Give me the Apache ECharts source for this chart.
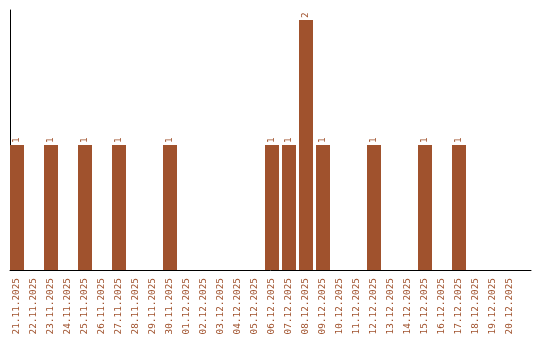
<!DOCTYPE html>
<html><head><meta charset="utf-8">
<script src="https://cdn.jsdelivr.net/npm/echarts@6/dist/echarts.min.js"></script>
<style>html,body{margin:0;padding:0;background:#fff}#c{width:540px;height:340px}</style>
</head><body><div id="c"></div>
<script>
var categories = ["21.11.2025","22.11.2025","23.11.2025","24.11.2025","25.11.2025","26.11.2025","27.11.2025","28.11.2025","29.11.2025","30.11.2025","01.12.2025","02.12.2025","03.12.2025","04.12.2025","05.12.2025","06.12.2025","07.12.2025","08.12.2025","09.12.2025","10.12.2025","11.12.2025","12.12.2025","13.12.2025","14.12.2025","15.12.2025","16.12.2025","17.12.2025","18.12.2025","19.12.2025","20.12.2025"];
var values = [1,0,1,0,1,0,1,0,0,1,0,0,0,0,0,1,1,2,1,0,0,1,0,0,1,0,1,0,0,0];
var labelIdx = categories.map(function(c,i){return i;});
var color = '#a0522d';
var chart = echarts.init(document.getElementById('c'));
chart.setOption({
  animation:false,
  grid:{left:10,right:9,top:10,bottom:70,containLabel:false},
  xAxis:{type:'value',min:-7/17,max:-7/17+521/17,
    axisLine:{show:true,onZero:false,lineStyle:{color:'#000',width:1}},
    axisTick:{show:false},splitLine:{show:false},
    axisLabel:{customValues:labelIdx,rotate:90,margin:8,color:color,
      fontFamily:'DejaVu Sans Mono',fontSize:9.4,
      formatter:function(v){return categories[Math.round(v)]||'';}}},
  yAxis:{type:'value',min:0,max:2.08,
    axisLine:{show:true,onZero:false,lineStyle:{color:'#000',width:1}},
    axisTick:{show:false},splitLine:{show:false},axisLabel:{show:false}},
  series:[{type:'bar',barWidth:14,
    data:values.map(function(v,i){return [i,v];}),
    itemStyle:{color:color},
    label:{show:true,position:'top',rotate:90,align:'left',verticalAlign:'middle',distance:2,
      color:color,fontFamily:'DejaVu Sans Mono',fontSize:9.4,
      formatter:function(p){return p.value[1]?String(p.value[1]):'';}}}]
});
</script></body></html>
